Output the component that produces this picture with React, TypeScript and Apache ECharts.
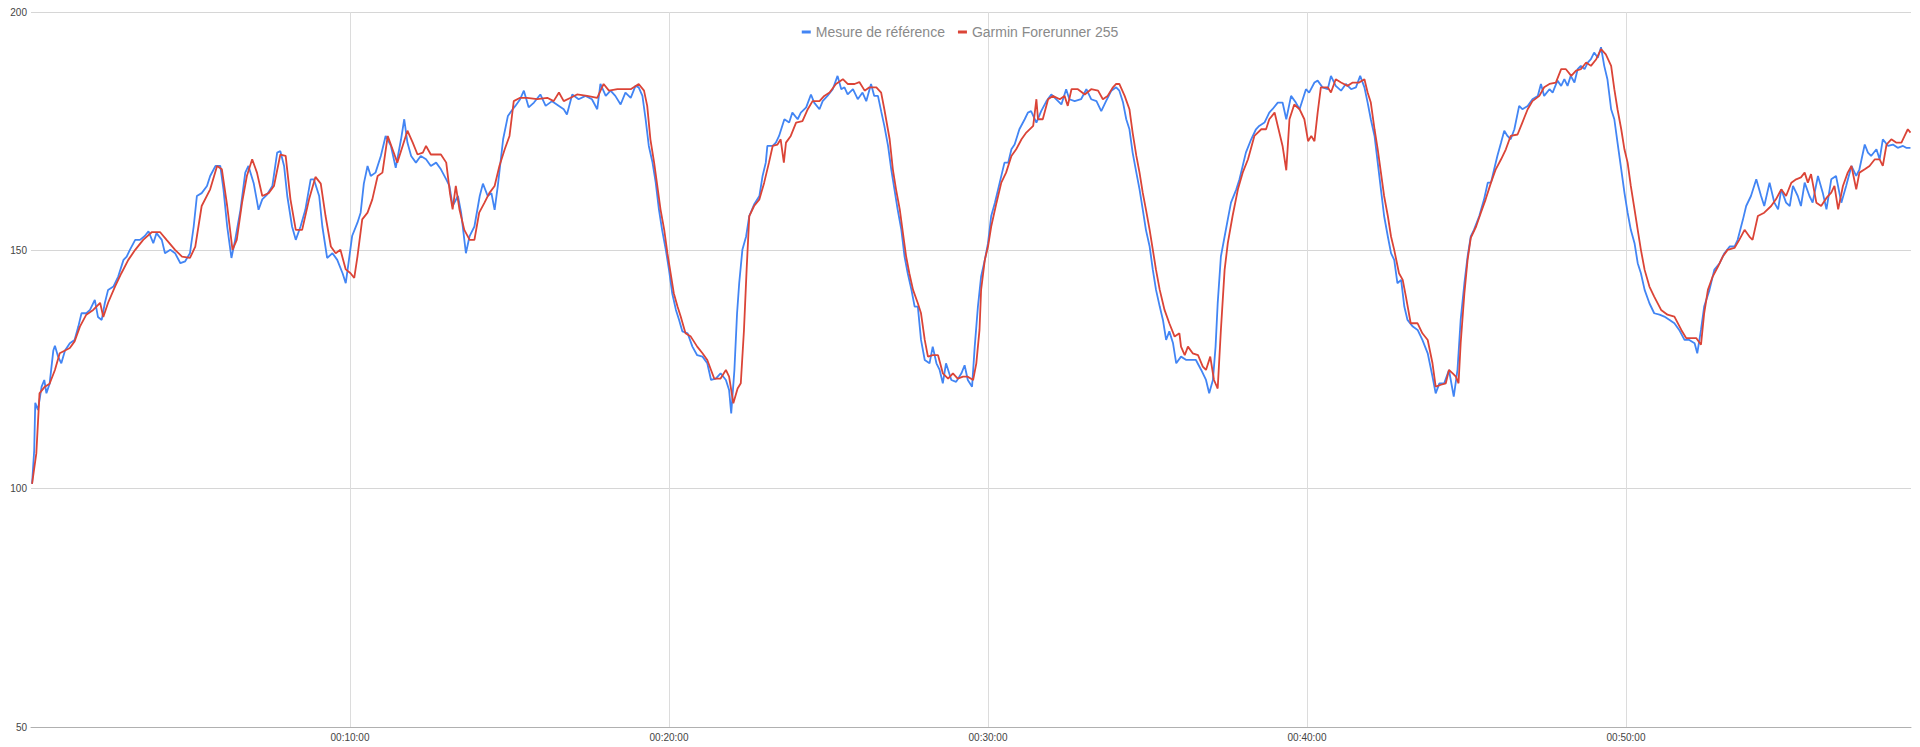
import React, { useEffect, useRef } from "react";
import * as echarts from "echarts";

// Heart rate (bpm) over elapsed time (seconds)
const seriesNames = ["Mesure de référence", "Garmin Forerunner 255"];
const yTicks = [50, 100, 150, 200];
const xTickSeconds = [600, 1200, 1800, 2400, 3000];
const xMaxSeconds = 3536;

const reference1: [number, number][] = [
  [2,101],[6,108],[8,118],[13,116.5],[20,121.4],[25,122.8],[29,120],[35,122],[42,129],[45,130],
  [51,127.7],[57,126.3],[64,129],[73,130.5],[82,131.2],[89,134],[95,136.8],[104,136.8],[111,137.5],[120,139.6],
  [126,136],[133,135.4],[139,139],[145,141.7],[155,142.4],[164,144.5],[174,148],[180,148.7],[186,150.1],[196,152.2],
  [205,152.2],[214,153],[221,154],[230,151.5],[236,153.6],[246,152.2],[252,149.4],[262,150.1],[271,149.4],[281,147.3],
  [290,147.7],[299,149.4],[306,155],[312,161.4],[321,162],[331,163.5],[337,165.6],[347,167.7],[356,167.7],[362,162.8],
  [369,155],[377,148.4],[384,152.2],[394,158.5],[403,166.3],[409,167.7],[419,164],[428,158.5],[435,160.7],[444,161.7],
  [454,163.5],[463,170.5],[469,170.8],[476,167.7],[482,161.4],[491,155],[498,152.2],[507,155],[516,158.5],[526,164.9],
  [532,164.9],[542,161.4],[548,155],[557,148.4],[567,149.4],[576,148],[586,145.2],[592,143.1],[598,148],[604,153],
  [614,155.8],[620,157.9],[626,164],[633,167.7],[639,165.6],[648,166.3],[658,169.8],[667,174],[677,171.9],[686,167.3],
  [696,173.3],[702,177.5],[708,172.6],[715,169.8],[724,168.4],[733,169.8],[743,169.1],[752,167.7],[762,168.4],[771,167],
  [781,164.9],[787,163.5],[793,159.3],[803,161.4],[809,157.9],[818,149.4],[825,153],[834,155],[844,161.4],[850,164],
  [859,161.4],[866,162],[872,158.5],[878,163.5],[888,173.3],[897,178.2],[906,179.6],
];

const reference2: [number, number][] = [
  [911,180.3],[920,181.7],[927,183.5],[936,180],[946,181],[958,182.7],[968,180.3],[980,181.3],[993,180.3],[1002,179.6],
  [1008,178.5],[1018,182.7],[1030,181.7],[1043,182.4],[1055,181.7],[1065,179.6],[1071,184.9],[1081,182.4],[1090,183.5],[1099,182.4],
  [1109,180.6],[1118,183.1],[1128,182],[1137,184.5],[1143,184.2],[1150,182.4],[1156,177.5],[1162,171.9],[1169,168.4],[1175,164.2],
  [1181,158.6],[1187,154.3],[1194,150.1],[1200,145.9],[1206,141],[1213,137.5],[1219,135.4],[1225,133],[1235,132.6],[1244,129.8],
  [1253,128],[1263,127.7],[1272,126.3],[1279,122.8],[1288,123.1],[1297,124.2],[1307,122.8],[1313,120.7],[1317,115.8],[1323,124.9],
  [1328,136.8],[1332,143.1],[1338,150.1],[1345,152.9],[1351,157.2],[1360,159.6],[1370,161.4],[1376,165.6],[1382,168.4],[1385,171.9],
  [1395,171.9],[1401,172.6],[1407,174],[1417,177.5],[1426,176.8],[1432,178.9],[1442,177.5],[1448,178.9],[1458,180],[1467,182.7],
  [1473,181],[1483,179.6],[1489,181.3],[1498,182.4],[1508,183.8],[1517,186.6],[1524,183.8],[1530,184.2],[1536,182.7],[1546,183.8],
  [1555,181.7],[1564,183.1],[1571,181.3],[1580,184.9],[1586,182.4],[1593,182.4],[1599,179.2],[1605,176.1],[1612,171.9],[1618,167],
  [1624,162.8],[1630,158.6],[1637,154.3],[1643,148.7],[1649,145.2],[1656,141.7],[1662,138.2],[1668,138.2],[1674,131.2],[1681,127],
  [1690,126.3],[1696,129.8],[1703,126.3],[1709,124.9],[1715,122.1],[1721,126.3],[1731,122.8],[1740,122.4],[1750,124.2],[1756,125.9],
  [1762,122.8],[1770,121.4],[1775,129.8],[1781,138.2],[1787,144.5],[1794,148],[1800,151.5],
];

const reference3: [number, number][] = [
  [1806,157.2],[1813,160],[1822,164.2],[1831,168.4],[1838,168.4],[1844,171.2],[1850,172.2],[1859,175.4],[1869,177.5],[1875,178.9],
  [1881,179.2],[1891,176.8],[1900,179.2],[1910,181.3],[1919,182.7],[1928,181.7],[1938,180.6],[1947,183.8],[1953,181.7],[1963,181.3],
  [1975,181.7],[1985,183.8],[1994,181.7],[2004,181.3],[2013,179.2],[2022,181.3],[2032,183.5],[2041,184.2],[2047,183.5],[2054,181],
  [2060,177.5],[2066,175.4],[2072,170.5],[2079,166.3],[2085,162.8],[2091,158.6],[2097,154.3],[2104,150.8],[2110,145.9],[2116,141.7],
  [2123,138.2],[2129,135.4],[2135,131.2],[2141,133],[2148,130.5],[2154,126.3],[2163,127.7],[2173,127],[2182,127],[2191,127],
  [2201,124.9],[2210,122.8],[2216,120],[2223,122.8],[2228,129.8],[2232,138.9],[2238,148.7],[2245,152.9],[2251,156.5],[2257,160],
  [2267,162.8],[2273,164.9],[2279,167.7],[2285,170.5],[2295,173.3],[2304,175.4],[2310,176.1],[2320,176.8],[2329,178.9],[2335,179.6],
  [2345,181],[2354,181],[2361,177.5],[2370,182.4],[2379,181],[2386,179.6],[2392,181.7],[2398,183.8],[2404,183.1],[2414,185.2],
  [2420,185.6],[2429,184.2],[2439,183.8],[2445,186.6],[2454,184.5],[2464,183.5],[2473,184.9],[2483,183.8],[2492,184.2],[2500,186.6],
  [2508,184.2],[2514,181],[2520,177.5],[2527,174],[2533,168.4],[2539,162.8],[2545,157.2],[2552,152.9],[2558,149.4],[2564,148],
  [2570,143.1],[2577,143.8],[2583,138.2],[2589,135.4],[2599,134],[2608,133.3],[2617,131.2],[2627,128.4],[2636,123.5],[2642,120],
  [2649,122.1],[2658,122.1],[2667,124.9],[2676,119.3],[2683,124.9],[2689,135.4],[2696,143.1],[2702,148.7],
];

const reference4: [number, number][] = [
  [2708,152.9],[2714,154.3],[2724,157.2],[2733,160.7],[2740,164.2],[2746,164.2],[2752,167],[2758,169.8],[2765,172.6],[2771,175.1],
  [2777,174],[2783,173.3],[2790,175.4],[2799,180.3],[2805,179.6],[2815,180.3],[2824,181.7],[2834,182.4],[2840,184.9],[2846,182.4],
  [2856,183.8],[2862,183.1],[2871,185.6],[2878,184.5],[2884,185.9],[2890,184.5],[2896,186.6],[2903,185.2],[2909,188],[2915,188.7],
  [2922,188],[2928,189.4],[2934,190.1],[2940,191.5],[2947,190.4],[2953,192.6],[2959,188.7],[2965,185.9],[2972,179.6],[2978,177.5],
  [2984,172.6],[2991,167],[2997,162.1],[3003,157.9],[3009,154.3],[3016,151.5],[3022,147.3],[3028,145.2],[3035,141.7],[3044,138.9],
  [3053,136.8],[3063,136.5],[3072,136.1],[3082,135.4],[3091,134.7],[3100,133.3],[3110,131.2],[3119,131.2],[3129,130.5],[3134,128.4],
  [3141,133.3],[3147,138.2],[3157,141.7],[3166,145.9],[3176,147.3],[3185,149.4],[3195,150.8],[3204,150.8],[3210,152.2],[3220,156.5],
  [3226,159.3],[3235,161.4],[3245,164.9],[3254,161.4],[3260,159.3],[3270,164.2],[3279,160],[3286,158.6],[3292,162.8],[3301,160],
  [3308,159.3],[3314,163.5],[3323,161.4],[3329,159.3],[3336,164.2],[3345,161.4],[3351,160],[3361,165.6],[3370,162.1],[3377,158.6],
  [3386,164.9],[3395,165.6],[3405,160],[3414,163.5],[3424,167.7],[3433,165.6],[3439,167],[3449,172.2],[3455,170.5],[3461,169.8],
  [3471,171.2],[3477,169.1],[3483,173.3],[3493,171.9],[3502,172.2],[3511,171.5],[3521,171.9],[3527,171.5],[3535,171.5],
];

const garmin1: [number, number][] = [
  [2,101],[10,107.4],[16,120],[26,121.4],[35,122],[45,124.9],[54,128.4],[64,129],[73,129.5],[82,130.9],
  [92,134],[104,136.5],[117,137.5],[130,139],[136,136],[145,139],[158,142.4],[170,145.2],[183,148],[196,150.1],
  [211,152.2],[227,153.8],[243,153.8],[255,152.2],[271,150.1],[284,148.7],[299,148.4],[309,150.8],[321,159.3],[337,162.8],
  [350,167.7],[359,167],[369,159.3],[379,150.1],[387,152.2],[397,160],[406,165.6],[416,169.1],[425,166.3],[435,161.4],
  [447,162],[457,163.5],[469,170.1],[479,169.8],[488,160.7],[498,154.3],[510,154.3],[523,160.7],[535,165.4],[545,164],
  [554,157.2],[564,150.8],[573,149.4],[582,150.1],[592,146],[601,145.2],[608,144.2],[614,148.7],[623,156.5],[633,157.9],
  [642,160.7],[652,165.6],[661,166.3],[671,174],[680,171.2],[689,168.4],[699,171.9],[708,175.1],[718,172.6],[727,170.1],
  [737,170.5],[743,171.9],[752,170.1],[771,170.1],[781,168.4],[788,162],[793,158.6],[799,163.5],[806,158.5],[815,154.3],
  [825,152.2],[834,152.2],[843,157.9],[853,160],[862,162],[872,163.5],[881,167.7],[891,171.2],[900,174],
];

const garmin2: [number, number][] = [
  [908,181.3],[920,182],[933,182],[952,181.7],[971,182],[983,181.3],[993,183.1],[1002,181.3],[1015,182],[1027,182.7],
  [1046,182.4],[1065,182],[1077,184.9],[1087,183.5],[1103,183.8],[1115,183.8],[1128,183.8],[1143,184.9],[1153,183.5],[1159,180.3],
  [1165,173.3],[1172,168.4],[1178,163.5],[1184,158.6],[1191,154.3],[1197,149.4],[1203,145.2],[1209,141],[1216,138.2],[1222,136.1],
  [1231,132.6],[1241,131.9],[1253,129.8],[1263,128.4],[1272,127],[1279,124.9],[1285,123.1],[1297,123.1],[1307,124.9],[1313,123.5],
  [1321,117.9],[1329,121],[1335,122.1],[1341,133.3],[1346,146],[1351,157.2],[1360,159.3],[1370,160.7],[1379,164.2],[1388,168.4],
  [1395,171.9],[1404,172.2],[1410,173.3],[1416,168.4],[1420,172.6],[1429,174],[1439,176.8],[1451,177.1],[1461,179.6],[1470,181.3],
  [1483,181.3],[1492,182.4],[1502,183.1],[1514,184.9],[1527,185.9],[1536,184.9],[1549,184.9],[1558,185.3],[1568,183.5],[1577,184.2],
  [1590,184.2],[1599,183.1],[1605,179.6],[1615,173.3],[1621,167],[1627,162.8],[1634,158.6],[1640,153.6],[1646,148.7],[1652,145.2],
  [1659,141.7],[1668,138.9],[1674,136.8],[1681,131.2],[1687,127.7],[1696,128],[1706,128],[1715,124.2],[1725,123.1],[1734,124.2],
  [1743,123.1],[1753,123.5],[1762,123.5],[1772,122.8],[1778,126.3],[1784,133.3],[1787,141.7],[1794,148],[1800,150.8],
];

const garmin3: [number, number][] = [
  [1806,155],[1816,160],[1825,164.2],[1834,166.3],[1844,169.8],[1853,171.2],[1863,173.3],[1872,174.7],[1885,176.1],[1891,181.7],
  [1894,177.5],[1903,177.5],[1913,181.7],[1922,182.4],[1935,181.7],[1944,182.4],[1950,180.3],[1957,183.8],[1969,183.8],[1982,182.7],
  [1994,183.8],[2007,183.5],[2016,181.7],[2025,182.4],[2035,184.2],[2041,184.9],[2047,184.9],[2057,182.4],[2066,179.6],[2072,174.7],
  [2079,169.8],[2085,166.3],[2091,162.1],[2097,158.6],[2104,154.3],[2110,150.1],[2116,145.9],[2123,141.7],[2132,137.5],[2141,134.7],
  [2151,131.9],[2160,132.6],[2163,129.8],[2170,128],[2176,129.8],[2185,128.4],[2195,128],[2204,125.6],[2210,124.9],[2218,127.7],
  [2225,122.8],[2232,121],[2238,133.3],[2245,145.9],[2251,151.5],[2260,157.2],[2270,162.8],[2279,166.3],[2289,169.1],[2301,174],
  [2314,175.4],[2323,175.4],[2329,177.5],[2339,178.9],[2345,176.1],[2354,171.9],[2361,166.8],[2367,177.5],[2376,180.6],[2386,179.6],
  [2395,177.5],[2402,172.9],[2408,174],[2414,172.9],[2420,178.9],[2426,184.2],[2439,184.2],[2445,183.1],[2454,185.9],[2464,185.2],
  [2476,184.5],[2486,185.2],[2498,185.2],[2508,185.9],[2514,183.1],[2520,181],[2527,175.4],[2533,171.2],[2539,166.3],[2545,161.4],
  [2552,157.2],[2558,152.9],[2564,150.1],[2573,145.2],[2580,143.8],[2586,140.3],[2595,134.7],[2608,134.7],[2617,132.6],[2627,131.2],
  [2636,126.3],[2642,121.4],[2652,121.8],[2661,122.1],[2667,124.9],[2674,124.2],[2680,123.5],[2685,122.1],[2689,130.5],[2696,141],
  [2702,148],
];

const garmin4: [number, number][] = [
  [2708,152.6],[2718,155],[2727,157.9],[2736,160.7],[2746,164.2],[2755,167],[2765,169.1],[2774,171.2],[2783,174],[2796,174.3],
  [2805,176.8],[2815,179.6],[2824,181.3],[2837,182.4],[2846,184.2],[2856,184.9],[2868,185.2],[2878,188],[2887,188],[2897,186.6],
  [2906,187.7],[2915,188],[2925,189.4],[2934,188.7],[2944,190.1],[2953,192.2],[2962,191.1],[2972,188.7],[2978,183.8],[2984,179.6],
  [2991,175.4],[2997,171.2],[3003,168.4],[3009,163.5],[3016,158.6],[3022,154.3],[3028,150.1],[3035,145.9],[3044,142.4],[3053,140.3],
  [3066,137.5],[3078,136.5],[3091,136.1],[3104,133.3],[3113,131.6],[3122,131.6],[3132,131.6],[3141,130.2],[3147,136.8],[3154,141.7],
  [3163,144.5],[3173,146.6],[3182,148.7],[3191,150.1],[3204,150.5],[3213,152.2],[3223,154.3],[3232,152.9],[3238,152.2],[3248,157.2],
  [3260,157.9],[3273,159.3],[3282,160.7],[3292,162.8],[3301,161.4],[3311,164.2],[3320,164.9],[3329,165.3],[3336,166.3],[3342,164.2],
  [3348,166],[3358,160],[3367,159.3],[3377,161],[3386,162.1],[3392,163.5],[3399,158.6],[3408,163.5],[3417,166.3],[3424,167.7],
  [3433,162.8],[3439,166.3],[3449,167],[3458,167.7],[3468,169.1],[3477,169.1],[3483,167.7],[3490,172.2],[3499,173.3],[3508,172.6],
  [3518,172.6],[3524,174],[3530,175.4],[3535,174.7],
];

const referenceData = [...reference1, ...reference2, ...reference3, ...reference4];
const garminData = [...garmin1, ...garmin2, ...garmin3, ...garmin4];

const pad = (n: number) => String(n).padStart(2, "0");
const formatTime = (s: number) => {
  const h = Math.floor(s / 3600);
  const m = Math.floor((s % 3600) / 60);
  const sec = Math.round(s % 60);
  return `${pad(h)}:${pad(m)}:${pad(sec)}`;
};

const FONT = 'Arial, "Liberation Sans", sans-serif';

export default function App() {
  const ref = useRef<HTMLDivElement>(null);

  useEffect(() => {
    document.body.style.margin = "0";
    if (!ref.current) return;
    const chart = echarts.init(ref.current, undefined, { renderer: "svg" });
    chart.setOption({
      animation: false,
      backgroundColor: "#ffffff",
      color: ["#4285f4", "#db4437"],
      legend: {
        top: 20,
        left: "center",
        icon: "rect",
        itemWidth: 9,
        itemHeight: 3,
        itemGap: 13,
        data: seriesNames,
        textStyle: { fontFamily: FONT, fontSize: 14, color: "#8a8a8a" },
      },
      grid: { left: 31, right: 9, top: 12, bottom: 20, containLabel: false },
      xAxis: {
        type: "value",
        min: 0,
        max: xMaxSeconds,
        interval: 600,
        axisLine: { show: true, lineStyle: { color: "#b0b0b0", width: 1 } },
        axisTick: { show: false },
        axisLabel: {
          showMinLabel: false,
          showMaxLabel: false,
          margin: 5,
          fontFamily: FONT,
          fontSize: 10,
          color: "#444",
          formatter: (v: number) => (xTickSeconds.includes(v) ? formatTime(v) : ""),
        },
        splitLine: {
          show: true,
          showMinLine: false,
          showMaxLine: false,
          lineStyle: { color: "#dcdcdc", width: 1 },
        },
      },
      yAxis: {
        type: "value",
        min: yTicks[0],
        max: yTicks[yTicks.length - 1],
        interval: 50,
        axisLine: { show: false },
        axisTick: { show: false },
        axisLabel: { margin: 4, fontFamily: FONT, fontSize: 10, color: "#444" },
        splitLine: { show: true, lineStyle: { color: "#d6d6d6", width: 1 } },
      },
      series: [
        {
          name: seriesNames[0],
          type: "line",
          data: referenceData,
          showSymbol: false,
          symbol: "none",
          lineStyle: { width: 1.8, color: "#4285f4" },
          itemStyle: { color: "#4285f4" },
        },
        {
          name: seriesNames[1],
          type: "line",
          data: garminData,
          showSymbol: false,
          symbol: "none",
          lineStyle: { width: 1.8, color: "#db4437" },
          itemStyle: { color: "#db4437" },
        },
      ],
    });
    return () => chart.dispose();
  }, []);

  return <div ref={ref} style={{ width: "1920px", height: "747px" }} />;
}
